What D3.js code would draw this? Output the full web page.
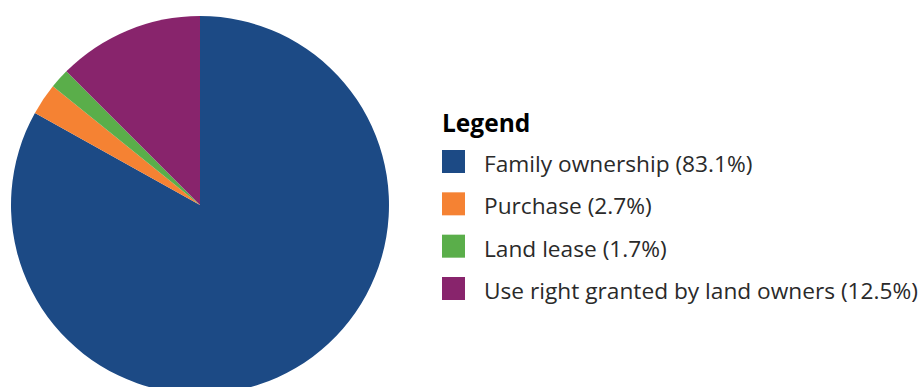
<!DOCTYPE html>
<html>
<head>
<meta charset="utf-8">
<script src="https://cdn.jsdelivr.net/npm/d3@7"></script>
<style>
  html, body { margin: 0; padding: 0; background: #fff; }
  svg { display: block; }
</style>
</head>
<body>
<svg id="chart" width="924" height="387"></svg>
<script>
const categories = ["Family ownership", "Purchase", "Land lease", "Use right granted by land owners"];
const shares = [83.1, 2.7, 1.7, 12.5];
const colors = ["#1c4a85", "#f58233", "#5aae4a", "#88246c"];

const svg = d3.select("#chart");
const data = categories.map((c, i) => ({ name: c, value: shares[i], color: colors[i] }));

// Pie, starting at 12 o'clock and running clockwise in data order
const pie = d3.pie().value(d => d.value).sort(null);
const arc = d3.arc().innerRadius(0).outerRadius(189);

svg.append("g")
  .attr("transform", "translate(200,205)")
  .selectAll("path")
  .data(pie(data))
  .join("path")
  .attr("d", arc)
  .attr("fill", d => d.data.color);

// Legend
const legend = svg.append("g").attr("transform", "translate(442,0)");
legend.append("text")
  .attr("x", 0).attr("y", 132)
  .attr("font-family", "'Open Sans', sans-serif")
  .attr("font-weight", 700)
  .attr("font-size", 24.5)
  .attr("fill", "#000")
  .text("Legend");

const rowY = d3.scaleLinear().domain([0, 3]).range([150, 277]);
const rows = legend.selectAll("g.row").data(data).join("g")
  .attr("class", "row")
  .attr("transform", (d, i) => `translate(0,${rowY(i)})`);
rows.append("rect").attr("width", 23).attr("height", 23).attr("fill", d => d.color);
rows.append("text")
  .attr("x", 42).attr("y", 22)
  .attr("font-family", "'Open Sans', sans-serif")
  .attr("font-size", 22.7)
  .attr("fill", "#2a2a2a")
  .text(d => `${d.name} (${d.value}%)`);
</script>
</body>
</html>
